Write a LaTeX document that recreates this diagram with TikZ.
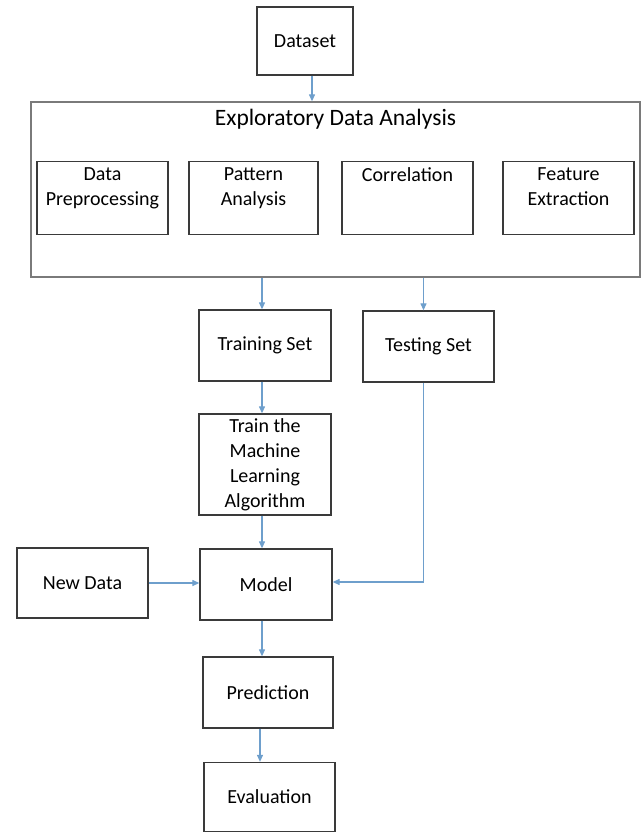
\documentclass[tikz,border=0pt]{standalone}
\usepackage{fontspec}
\setmainfont{Carlito}
\usetikzlibrary{arrows.meta}
\definecolor{arrowblue}{HTML}{6E9FCC}
\definecolor{boxline}{HTML}{3A3A3A}
\definecolor{edaline}{HTML}{7A7A7A}
\begin{document}
\begin{tikzpicture}[x=1pt,y=-1pt,font=\fontsize{20}{25}\selectfont,
    box/.style={draw=boxline,line width=1.3pt,inner sep=0pt,minimum width=131pt,minimum height=71pt,align=center},
    toptext/.style={anchor=north,inner sep=0pt,align=center,label distance=-6.5pt},
    flow/.style={draw=arrowblue,line width=1.2pt,-{Triangle[length=7pt,width=6pt]}}]
    \useasboundingbox(0,0)rectangle(642,833);
    \node[box,minimum width=96pt,minimum height=68pt](1)at(305,41){Dataset};
    \node[box,draw=edaline,minimum width=609pt,minimum height=175pt,label={[anchor=base,label distance=-24pt,font=\fontsize{23.5}{28}\selectfont]north:Exploratory Data Analysis}](2)at(335.5,189.5){};
    \node[box,minimum height=72.5pt,label={[toptext]north:Data\\Preprocessing}](3)at(102.5,198){};
    \node[box,minimum width=129pt,minimum height=72.5pt,label={[toptext]north:Pattern\\Analysis}](4)at(253.5,198){};
    \node[box,minimum height=72.5pt,label={[toptext]north:Correlation}](5)at(407.5,198){};
    \node[box,minimum height=72.5pt,label={[toptext]north:Feature\\Extraction}](6)at(568.5,198){};
    \node[box,minimum width=132pt](7)at(265,345.5){Training Set};
    \node[box](8)at(428.5,346.5){Testing Set};
    \node[box,minimum width=132pt,minimum height=101pt](9)at(265,464.5){Train the\\Machine\\Learning\\Algorithm};
    \node[box,minimum width=132pt](10)at(266,584.5){Model};
    \node[box,minimum height=70pt](11)at(82.5,583){New Data};
    \node[box,minimum width=130pt](12)at(268,692.5){Prediction};
    \node[box,minimum height=69pt](13)at(269.5,797){Evaluation};
    \draw[flow]([xshift=7pt]1.south)--([xshift=7pt]1.south|-2.north);
    \draw[flow]([xshift=-3pt]7.north|-2.south)--([xshift=-3pt]7.north);
    \draw[flow]([xshift=-5pt]8.north|-2.south)--([xshift=-5pt]8.north);
    \draw[flow]([xshift=-3pt]7.south)--([xshift=-3pt]9.north);
    \draw[flow]([xshift=-3pt]9.south)--([xshift=-3pt]9.south|-10.north);
    \draw[flow](11.east)--(11.east-|10.west);
    \draw[flow]([xshift=-5pt]8.south)|-([yshift=2.5pt]10.east);
    \draw[flow]([xshift=-4pt]10.south)--([xshift=-4pt]10.south|-12.north);
    \draw[flow]([xshift=-8pt]12.south)--([xshift=-8pt]12.south|-13.north);
\end{tikzpicture}
\end{document}
